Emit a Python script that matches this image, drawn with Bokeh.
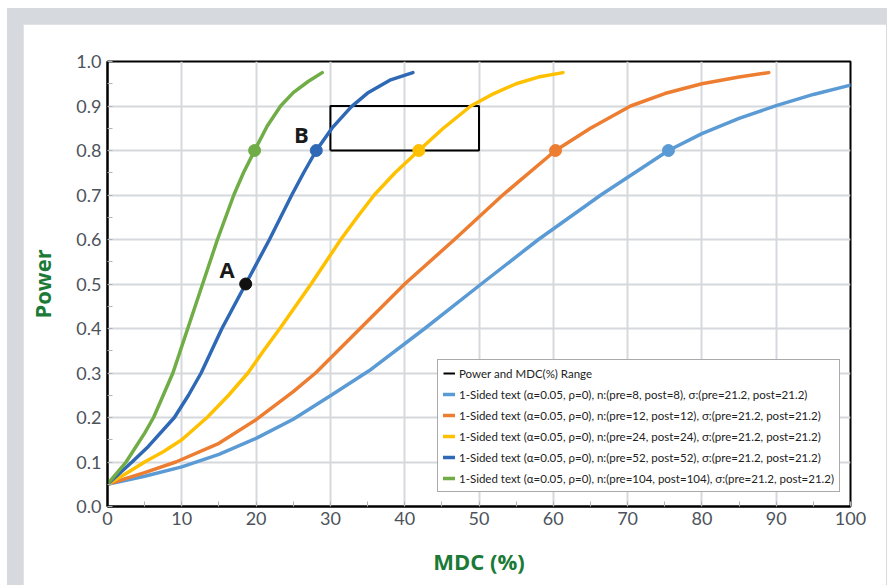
from bokeh.plotting import figure
from bokeh.models import Legend, LegendItem, Range1d, SingleIntervalTicker, NumeralTickFormatter
from bokeh.layouts import column
from bokeh.embed import file_html
from bokeh.resources import INLINE
from bokeh.core.properties import value

# ---- data ----
series_labels = [
    "1-Sided text (\u03b1=0.05, \u03c1=0), n:(pre=8, post=8), \u03c3:(pre=21.2, post=21.2)",
    "1-Sided text (\u03b1=0.05, \u03c1=0), n:(pre=12, post=12), \u03c3:(pre=21.2, post=21.2)",
    "1-Sided text (\u03b1=0.05, \u03c1=0), n:(pre=24, post=24), \u03c3:(pre=21.2, post=21.2)",
    "1-Sided text (\u03b1=0.05, \u03c1=0), n:(pre=52, post=52), \u03c3:(pre=21.2, post=21.2)",
    "1-Sided text (\u03b1=0.05, \u03c1=0), n:(pre=104, post=104), \u03c3:(pre=21.2, post=21.2)",
]
range_label = "Power and MDC(%) Range"

mdc_n8 = [0, 5, 10, 15, 20, 25, 30, 35.2, 42.7, 50.3, 58.0, 66.4, 75.5, 80, 85, 90, 95, 100]
pow_n8 = [0.05, 0.068, 0.089, 0.117, 0.153, 0.196, 0.249, 0.305, 0.4, 0.5, 0.6, 0.7, 0.8, 0.838,
          0.872, 0.901, 0.926, 0.947]

mdc_n12 = [0, 5, 9.2, 15, 20, 25, 28.0, 34.0, 40.0, 46.7, 53.2, 60.3, 65, 70.4, 75, 80, 85, 89]
pow_n12 = [0.05, 0.076, 0.1, 0.142, 0.195, 0.258, 0.3, 0.4, 0.5, 0.6, 0.7, 0.8, 0.85, 0.9, 0.928,
           0.95, 0.965, 0.975]

mdc_n24 = [0, 2.5, 5, 7.5, 10, 13.4, 16.3, 18.9, 21.0, 23.2, 25.3, 27.4, 29.4, 31.4, 33.6, 35.9,
           38.7, 41.9, 45.2, 48.9, 52, 55, 58, 61.3]
pow_n24 = [0.05, 0.074, 0.1, 0.123, 0.15, 0.2, 0.25, 0.3, 0.35, 0.4, 0.45, 0.5, 0.55, 0.6, 0.65,
           0.7, 0.75, 0.8, 0.85, 0.9, 0.928, 0.95, 0.965, 0.975]

mdc_n52 = [0, 3.3, 5.5, 9.0, 10.9, 12.6, 14.0, 15.4, 17.0, 18.6, 20.2, 21.8, 23.3, 24.8, 26.4,
           28.1, 30.3, 32.8, 35, 38, 41.1]
pow_n52 = [0.05, 0.1, 0.135, 0.2, 0.25, 0.3, 0.35, 0.4, 0.45, 0.5, 0.55, 0.6, 0.65, 0.7, 0.75,
           0.8, 0.852, 0.898, 0.929, 0.958, 0.975]

mdc_n104 = [0, 2.5, 5, 6.2, 7.5, 8.8, 9.8, 10.8, 11.8, 12.8, 13.8, 14.8, 15.9, 17.0, 18.3, 19.8,
            21.5, 23.3, 25, 27, 28.9]
pow_n104 = [0.05, 0.1, 0.165, 0.2, 0.25, 0.3, 0.35, 0.4, 0.45, 0.5, 0.55, 0.6, 0.65, 0.7, 0.75,
            0.8, 0.855, 0.9, 0.93, 0.955, 0.975]

# power 0.8 points per series
mdc_at_80 = [75.5, 60.3, 41.9, 28.1, 19.8]
pow_at_80 = [0.8, 0.8, 0.8, 0.8, 0.8]

# point A
point_a_mdc = [18.6]
point_a_pow = [0.5]

# annotation letters
letter_text = ["A", "B"]
letter_mdc = [16.1, 26.1]
letter_pow = [0.533, 0.836]

# range box
range_mdc = [30, 50]
range_pow = [0.8, 0.9]

colors = ["#5b9bd5", "#ed7d31", "#ffc000", "#2f69b6", "#70ad47"]
series_x = [mdc_n8, mdc_n12, mdc_n24, mdc_n52, mdc_n104]
series_y = [pow_n8, pow_n12, pow_n24, pow_n52, pow_n104]

AX_GREEN = "#1a7a36"
TICK_COL = "#4d535b"
FONT = "Lato"

p = figure(width=863, height=561, x_range=Range1d(0, 100), y_range=Range1d(0, 1),
           output_backend="svg", toolbar_location=None,
           min_border_left=84, min_border_right=36, min_border_top=37, min_border_bottom=79)
p.background_fill_color = "white"
p.border_fill_color = "white"
p.outline_line_color = "black"
p.outline_line_width = 2

p.xaxis.ticker = SingleIntervalTicker(interval=10, num_minor_ticks=2)
p.yaxis.ticker = SingleIntervalTicker(interval=0.1, num_minor_ticks=2)
p.yaxis.formatter = NumeralTickFormatter(format="0.0")

for ax in (p.xaxis, p.yaxis):
    ax.axis_line_color = "black"
    ax.axis_line_width = 2
    ax.major_tick_out = 0
    ax.major_tick_in = 0
    ax.minor_tick_out = 0
    ax.minor_tick_in = 5
    ax.minor_tick_line_color = "#b0b3b8"
    ax.minor_tick_line_width = 1
    ax.major_label_text_font = FONT
    ax.major_label_text_font_size = "18px"
    ax.major_label_text_color = TICK_COL
    ax.axis_label_text_font = "Open Sans"
    ax.axis_label_text_font_style = "bold"
    ax.axis_label_text_font_size = "22px"
    ax.axis_label_text_color = AX_GREEN

p.xaxis.axis_label = "MDC (%)"
p.yaxis.axis_label = "Power"
p.xaxis.major_label_standoff = 5
p.yaxis.major_label_standoff = 6
p.xaxis.axis_label_standoff = 18
p.yaxis.axis_label_standoff = 16

p.grid.grid_line_color = "#d5d8dc"
p.grid.grid_line_width = 2

# range box drawn as closed line
box_x = [range_mdc[0], range_mdc[1], range_mdc[1], range_mdc[0], range_mdc[0]]
box_y = [range_pow[0], range_pow[0], range_pow[1], range_pow[1], range_pow[0]]
box_r = p.line(box_x, box_y, line_color="black", line_width=2)

items = [LegendItem(label=range_label, renderers=[box_r])]
for xs, ys, c, lab in zip(series_x, series_y, colors, series_labels):
    r = p.line(xs, ys, line_color=c, line_width=3.5, line_join="round", line_cap="round")
    items.append(LegendItem(label=lab, renderers=[r]))

for mx, my, c in zip(mdc_at_80, pow_at_80, colors):
    p.scatter([mx], [my], size=12, fill_color=c, line_color=c)

p.scatter(point_a_mdc, point_a_pow, size=12, fill_color="#111111", line_color="#111111")

p.text(letter_mdc, letter_pow, text=letter_text, text_font=value("Open Sans"),
       text_font_style="bold", text_font_size="22px", text_color="#1a1a1a",
       text_align="center", text_baseline="middle")

legend = Legend(items=items, location=(330, 14))
legend.border_line_color = "#555555"
legend.border_line_width = 1
legend.background_fill_color = "white"
legend.background_fill_alpha = 1
legend.label_text_font = FONT
legend.label_text_font_size = "11.5px"
legend.label_text_color = "#222222"
legend.glyph_width = 12
legend.glyph_height = 16
legend.label_height = 16
legend.spacing = 5
legend.padding = 5
legend.margin = 0
legend.label_standoff = 4
p.add_layout(legend)

layout = column(p, styles={"background-color": "#d6d9dd", "padding-left": "16px",
                           "padding-top": "16px", "padding-right": "1px",
                           "margin-left": "7px", "margin-top": "8px"})

open("out.html", "w").write(file_html(layout, INLINE))
